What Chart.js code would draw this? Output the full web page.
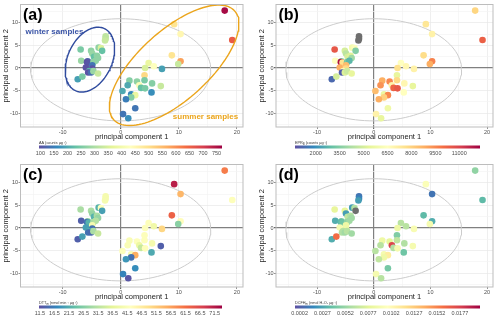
<!DOCTYPE html>
<html>
<head>
<meta charset="utf-8">
<script src="https://cdn.jsdelivr.net/npm/chart.js@4.4.1/dist/chart.umd.min.js"></script>
<style>
  body { margin: 0; background: #fff; }
  #wrap { position: relative; width: 500px; height: 320px; overflow: hidden; }
  canvas { position: absolute; }
</style>
</head>
<body>
<div id="wrap">
  <canvas id="pa" width="250" height="142" style="left:0;top:0"></canvas>
  <canvas id="pb" width="244" height="142" style="left:256px;top:0"></canvas>
  <canvas id="pc" width="250" height="142" style="left:0;top:160px"></canvas>
  <canvas id="pd" width="244" height="142" style="left:256px;top:160px"></canvas>
  <canvas id="ca" width="250" height="20" style="left:0;top:138px"></canvas>
  <canvas id="cb" width="250" height="20" style="left:250px;top:138px"></canvas>
  <canvas id="cc" width="250" height="20" style="left:0;top:298px"></canvas>
  <canvas id="cd" width="250" height="20" style="left:250px;top:298px"></canvas>
</div>
<script>
// PCA scores (same samples in every panel)
const pc1 = [17.9, 19.2, 9.2, 10.3, 8.8, 10.3, 9.9, 4.8, 5.7, 4.2,
  7.1, 4.1, 4.1, 2.8, 1.5, 5.4, 1.2, 3.2, 3.5, 4.2,
  6.9, 0.3, 5.3, 1.8, 2.5, 1.8, 0.9, 2.5, 0.4, 1.3,
  -2.6, -2.6, -2.7, -6.9, -3.8, -3.4, -3.2, -5.1, -4.9, -4.6,
  -4.1, -3.9, -6.8, -5.7, -5.8, -5.5, -4.7, -4.3, -4.9, -6.0,
  -4.9, -5.4, -5.6, -5.1, -4.7, -3.9, -7.4, -6.6];
const pc2 = [12.7, 6.2, 9.7, 7.5, 2.8, 1.5, 0.9, 1.1, 0.4, 0.0,
  -0.2, -1.6, -2.7, -3.0, -2.8, -3.4, -3.8, -3.8, -4.4, -4.5,
  -4.0, -5.1, -5.4, -5.8, -6.0, -6.5, -6.9, -8.9, -10.2, -11.1,
  7.0, 6.5, 6.1, 4.1, 4.5, 4.4, 3.8, 3.8, 3.2, 2.5,
  2.7, 2.2, 1.6, 1.5, 1.3, 1.2, 1.3, 1.6, 0.6, 0.1,
  -0.1, -0.7, -1.0, -1.0, -0.7, -1.2, -2.5, -1.9];

// colour variables (null = missing, drawn grey)
const aaVals = [760, 660, 490, 450, 490, 580, 330, 380, 430, 350,
  190, 510, 250, 270, 260, 260, 200, 420, 230, 250,
  330, 200, 170, 160, 380, 260, 150, 140, 140, 170,
  320, 320, 330, 250, 270, 350, 230, 270, 280, 230,
  270, 270, 280, 120, 100, 105, 270, 270, 140, 100,
  100, 220, 100, 130, 280, 330, 190, 250];
const eprVals = [7900, 10300, 7400, 7000, 7700, 9600, 8800, 6500, 6800, 7600,
  7000, 5500, 7800, 9500, 8800, 6800, 9300, 7000, 10200, 10500,
  5500, 8500, 6500, 5600, 9500, 8000, 8800, 5800, 7000, 5500,
  null, null, null, 10500, 6000, 6300, 3500, 5000, 4500, 5000,
  5200, 4000, 6500, 3500, 12000, 7600, 3300, 2800, 8500, 8800,
  7800, 6800, 1000, 5200, 4800, 5500, 1200, 5000];
const dttVals = [60, 42, 71, 54, 63, 43, 27, 42, 39, 42,
  50, 42, 42, 42, 41, 40, 41, 38, 33, 42,
  13, 42, 21, 41, 55, 15, 19, 18, 17, 12,
  40, 40, 40, 30, 22, 42, 20, 30, 28, 22,
  30, 28, 13, 28, 15, 22, 30, 31, 40, 20,
  15, 21, 15, 14, 30, 33, 13, 20];
const dcfhVals = [0.0050, 0.0035, 0.0095, 0.0010, 0.0035, 0.0030, 0.0090, 0.0062, 0.0062, 0.0085,
  0.0092, 0.0045, 0.0065, 0.0080, 0.0085, 0.0060, 0.0062, 0.0175, 0.0060, 0.0090,
  0.0090, 0.0062, 0.0040, 0.0090, 0.0110, 0.0085, 0.0065, 0.0042, 0.0090, 0.0062,
  0.0010, 0.0015, 0.0025, 0.0080, 0.0025, 0.0060, null, 0.0080, 0.0025, 0.0065,
  0.0060, 0.0055, 0.0030, 0.0045, 0.0035, 0.0040, 0.0050, 0.0055, 0.0085, 0.0090,
  0.0085, 0.0062, 0.0060, 0.0055, 0.0062, 0.0055, 0.0030, 0.0160];

// colour bar limits and ticks
const aaRange = [95, 770];
const eprRange = [700, 12300];
const dttRange = [11.2, 74];
const dcfhRange = [-0.0003, 0.0199];
const aaTicks = [100, 150, 200, 250, 300, 350, 400, 450, 500, 550, 600, 650, 700, 750];
const eprTicks = [2000, 3500, 5000, 6500, 8000, 9500, 11000];
const dttTicks = [11.5, 16.5, 21.5, 26.5, 31.5, 36.5, 41.5, 46.5, 51.5, 56.5, 61.5, 66.5, 71.5];
const dcfhTicks = [0.0002, 0.0027, 0.0052, 0.0077, 0.0102, 0.0127, 0.0152, 0.0177];

// axis ticks
const xTicks = [-15, -10, -5, 0, 5, 10, 15, 20];
const yTicks = [-12.5, -10, -7.5, -5, -2.5, 0, 2.5, 5, 7.5, 10, 12.5];

const FONT = "'Liberation Sans', Arial, sans-serif";
const specStops = ['#5e4fa2', '#3288bd', '#66c2a5', '#abdda4', '#e6f598', '#ffffbf',
  '#fee08b', '#fdae61', '#f46d43', '#d53e4f', '#9e0142'];
const naColor = '#6e6e6e';

function hexRgb(h) {
  return [parseInt(h.slice(1, 3), 16), parseInt(h.slice(3, 5), 16), parseInt(h.slice(5, 7), 16)];
}
function spectral(t) {
  t = Math.max(0, Math.min(1, t));
  const p = t * (specStops.length - 1);
  const i = Math.min(Math.floor(p), specStops.length - 2);
  const f = p - i;
  const a = hexRgb(specStops[i]), b = hexRgb(specStops[i + 1]);
  const c = a.map((v, k) => Math.round(v + (b[k] - v) * f));
  return `rgb(${c[0]},${c[1]},${c[2]})`;
}

// ellipse outline; k rescales y so the tilt looks right on screen
function ellipsePts(cx, cy, a, b, angDeg, k) {
  const out = [];
  const th = angDeg * Math.PI / 180;
  for (let i = 0; i <= 120; i++) {
    const t = i / 120 * 2 * Math.PI;
    const u = a * Math.cos(th) * Math.cos(t) - b * Math.sin(th) * Math.sin(t);
    const v = a * Math.sin(th) * Math.cos(t) + b * Math.cos(th) * Math.sin(t);
    out.push({ x: cx + u, y: cy + v * k });
  }
  return out;
}

// frame, panel letter and free text
const framePlugin = {
  id: 'frame',
  afterDatasetsDraw(chart, args, opts) {
    const { ctx, chartArea: ca, scales } = chart;
    ctx.save();
    ctx.strokeStyle = '#bdbdbd';
    ctx.lineWidth = 1;
    ctx.strokeRect(ca.left, ca.top, ca.right - ca.left, ca.bottom - ca.top);
    (opts.notes || []).forEach(n => {
      ctx.font = `bold 8px ${FONT}`;
      ctx.fillStyle = n.color;
      ctx.textAlign = 'center';
      ctx.textBaseline = 'middle';
      ctx.fillText(n.text, scales.x.getPixelForValue(n.x), scales.y.getPixelForValue(n.y));
    });
    ctx.font = `bold 16px ${FONT}`;
    ctx.fillStyle = '#000';
    ctx.textAlign = 'left';
    ctx.textBaseline = 'top';
    ctx.fillText(opts.label, ca.left + 2.5, ca.top + 3);
    ctx.restore();
  }
};

function panel(id, vals, range, yw, label, extra, notes) {
  const pts = pc1.map((x, i) => ({ x: x, y: pc2[i] }));
  const cols = vals.map(v => v == null ? naColor : spectral((v - range[0]) / (range[1] - range[0])));
  const ds = [
    { data: ellipsePts(0, -0.4, 15.5, 11.3, 0, 1), showLine: true, borderColor: '#cccccc',
      borderWidth: 1, pointRadius: 0, order: 3 },
    { data: pts, backgroundColor: cols, pointRadius: 3.3, borderWidth: 0, order: 2 }
  ].concat(extra || []);
  const gridCol = (v, major) => v === 0 ? '#808080' : (v % major === 0 ? '#e8e8e8' : '#f4f4f4');
  new Chart(document.getElementById(id), {
    type: 'scatter',
    data: { datasets: ds },
    options: {
      responsive: false,
      animation: false,
      events: [],
      layout: { padding: { left: 0, right: 7, top: 4.5, bottom: 0 } },
      plugins: { legend: { display: false }, tooltip: { enabled: false }, frame: { label: label, notes: notes } },
      scales: {
        x: {
          type: 'linear', min: -17.25, max: 21.05,
          afterBuildTicks: s => { s.ticks = xTicks.map(v => ({ value: v })); },
          afterFit: s => { s.height = 15; },
          border: { display: false },
          grid: {
            color: c => gridCol(c.tick.value, 10),
            lineWidth: c => c.tick.value === 0 ? 1.2 : 0.7,
            tickLength: 2,
            tickColor: c => c.tick.value % 10 === 0 ? '#666' : 'rgba(0,0,0,0)'
          },
          ticks: { font: { size: 5.5, family: FONT }, color: '#4d4d4d', padding: 0.5, maxRotation: 0,
            autoSkip: false, callback: v => v % 10 === 0 ? v : '' },
          title: { display: true, text: 'principal component 1', color: '#222',
            font: { size: 7.5, family: FONT }, padding: { top: 0, bottom: 1 } }
        },
        y: {
          type: 'linear', min: -13.05, max: 14.05,
          afterBuildTicks: s => { s.ticks = yTicks.map(v => ({ value: v })); },
          afterFit: s => { s.width = yw; },
          border: { display: false },
          grid: {
            color: c => gridCol(c.tick.value, 5),
            lineWidth: c => c.tick.value === 0 ? 1.2 : 0.7,
            tickLength: 2,
            tickColor: c => c.tick.value % 5 === 0 ? '#666' : 'rgba(0,0,0,0)'
          },
          ticks: { font: { size: 5.5, family: FONT }, color: '#4d4d4d', padding: 0.5,
            autoSkip: false, callback: v => v % 5 === 0 ? v : '' },
          title: { display: true, text: 'principal component 2', color: '#222',
            font: { size: 7.5, family: FONT }, padding: { top: 1, bottom: 0 } }
        }
      }
    },
    plugins: [framePlugin]
  });
}

// gradient bar and its title
const barPlugin = {
  id: 'bar',
  beforeDatasetsDraw(chart, args, opts) {
    const { ctx, chartArea: ca } = chart;
    ctx.save();
    const g = ctx.createLinearGradient(ca.left, 0, ca.right, 0);
    specStops.forEach((c, i) => g.addColorStop(i / (specStops.length - 1), c));
    ctx.fillStyle = g;
    ctx.fillRect(ca.left, ca.top, ca.right - ca.left, ca.bottom - ca.top);
    let x = ca.left;
    ctx.fillStyle = '#333';
    ctx.textBaseline = 'alphabetic';
    opts.title.forEach(p => {
      ctx.font = `${p.sub ? 2.8 : 3.8}px ${FONT}`;
      ctx.fillText(p.t, x, ca.top - 1.5 + (p.sub ? 0.8 : 0));
      x += ctx.measureText(p.t).width;
    });
    ctx.restore();
  }
};

function colorBar(id, range, ticks, fmt, padL, padR, title) {
  new Chart(document.getElementById(id), {
    type: 'scatter',
    data: { datasets: [] },
    options: {
      responsive: false,
      animation: false,
      events: [],
      layout: { padding: { left: padL, right: padR, top: 7.5, bottom: 0 } },
      plugins: { legend: { display: false }, tooltip: { enabled: false }, bar: { title: title } },
      scales: {
        x: {
          type: 'linear', min: range[0], max: range[1],
          afterBuildTicks: s => { s.ticks = ticks.map(v => ({ value: v })); },
          afterFit: s => { s.height = 9.5; },
          border: { display: false },
          grid: { display: false, drawTicks: false },
          ticks: { font: { size: 5.5, family: FONT }, color: '#4d4d4d', padding: 1.5, maxRotation: 0,
            autoSkip: false, callback: fmt }
        },
        y: { display: false }
      }
    },
    plugins: [barPlugin]
  });
}

const K = 1.285;
const winterRing = { data: ellipsePts(-5.3, 1.85, 5.9, 3.8, 65, K), showLine: true, borderColor: '#2f4b9e',
  borderWidth: 1.4, pointRadius: 0, order: 1 };
const summerRing = { data: ellipsePts(9.2, 0.6, 14.0, 6.0, 42, K), showLine: true, borderColor: '#eba51c',
  borderWidth: 1.4, pointRadius: 0, order: 1 };

panel('pa', aaVals, aaRange, 20.5, '(a)', [winterRing, summerRing], [
  { x: -11.4, y: 8.0, text: 'winter samples', color: '#3a54a6' },
  { x: 14.6, y: -10.9, text: 'summer samples', color: '#eba51c' }
]);
panel('pb', eprVals, eprRange, 20, '(b)');
panel('pc', dttVals, dttRange, 20.5, '(c)');
panel('pd', dcfhVals, dcfhRange, 20, '(d)');

colorBar('ca', aaRange, aaTicks, v => String(v), 39, 28, [{ t: 'AA (counts µg⁻¹)' }]);
colorBar('cb', eprRange, eprTicks, v => String(v), 45, 20,
  [{ t: 'EPR' }, { t: 'B', sub: true }, { t: ' (counts µg⁻¹)' }]);
colorBar('cc', dttRange, dttTicks, v => v.toFixed(1), 39, 28,
  [{ t: 'DTT' }, { t: 'm', sub: true }, { t: ' (nmol min⁻¹ µg⁻¹)' }]);
colorBar('cd', dcfhRange, dcfhTicks, v => v.toFixed(4), 45, 20,
  [{ t: 'DCFH' }, { t: 'm', sub: true }, { t: ' (nmol H₂O₂ µg⁻¹)' }]);
</script>
</body>
</html>
